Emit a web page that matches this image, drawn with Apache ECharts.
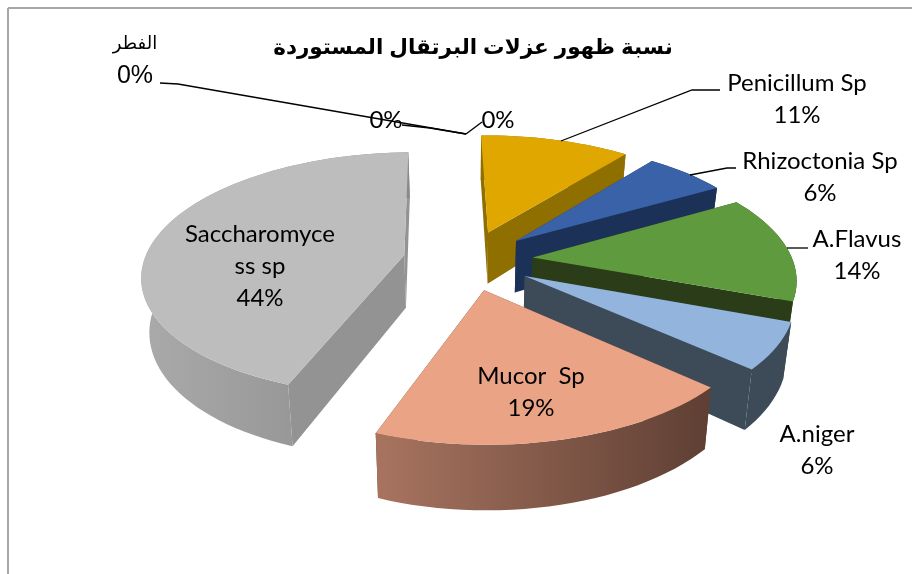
<!DOCTYPE html>
<html>
<head>
<meta charset="utf-8">
<style>
  html, body { margin: 0; padding: 0; background: #fff; }
  #chart { width: 912px; height: 574px; }
</style>
</head>
<body>
<div id="chart"></div>
<script src="https://cdn.jsdelivr.net/npm/echarts@6/dist/echarts.min.js"></script>
<script>
// values in chart order, clockwise from 12 o'clock
const categories = ['الفطر', '', '', 'Penicillum Sp', 'Rhizoctonia Sp', 'A.Flavus', 'A.niger', 'Mucor  Sp', 'Saccharomyce\nss sp']
const values = [0, 0, 0, 11, 6, 14, 6, 19, 44]
const titleText = 'نسبة ظهور عزلات البرتقال المستوردة'

// slice styles, same order as values
const topColors = ['#999', '#999', '#999', '#dfa700', '#3a62a8', '#5f9a3e', '#93b5dd', '#eaa385', '#bdbdbd']
const wallColors = ['#666', '#666', '#666', '#8f6f00', '#1c3157', '#2a3d18', '#3d4a58', '#5e3f33', '#939393']
const rimColors = [null, null, null, null, null, null, null, ['#a87460', '#5e3f33'], ['#aaaaaa', '#8a8a8a']]

// label anchor and leader line for each slice, in page pixels
const labelLayout = [
  { x: 135, y: 44, leader: [[160, 83], [178, 84], [466, 134]] },
  { x: 386, y: 120, leader: [[402, 125], [430, 128], [466, 134]] },
  { x: 498, y: 120, leader: [[482, 122], [466, 134]] },
  { x: 797, y: 83, leader: [[561, 141], [692, 90], [720, 90]] },
  { x: 820, y: 161, leader: [[690, 175], [727, 168], [736, 168]] },
  { x: 857, y: 239, leader: [[787, 248], [808, 248]] },
  { x: 817, y: 434, leader: [] },
  { x: 531, y: 376, leader: [] },
  { x: 260, y: 234, leader: [] }
]

// fake 3d pie: disc plane with perspective, then drop for the wall
const pie3d = { cx: 468, cy: 260, rx: 260, ry: 120, persp: 0.155, explode: 0.25, depth: 53, shrink: 0.975, rotate: -0.02 }
const total = values.reduce((a, b) => a + b, 0)

function project (X, Y, low) {
  const s = 1 / (1 + pie3d.persp * Y)
  let x = pie3d.cx + pie3d.rx * X * s
  let y = pie3d.cy - pie3d.ry * Y * s
  if (low) {
    x = pie3d.cx + (x - pie3d.cx) * pie3d.shrink
    y += pie3d.depth * s
  }
  return [x, y]
}

function poly (points, fill) {
  return { type: 'polygon', shape: { points: points }, style: { fill: fill } }
}

function renderSlice (params, api) {
  const i = params.dataIndex
  const before = values.slice(0, i).reduce((a, b) => a + b, 0)
  const a0 = before / total * Math.PI * 2 + pie3d.rotate
  const a1 = (before + api.value(0)) / total * Math.PI * 2 + pie3d.rotate
  const mid = (a0 + a1) / 2
  const ox = pie3d.explode * Math.sin(mid)
  const oy = pie3d.explode * Math.cos(mid)
  const children = []

  if (a1 > a0) {
    const n = Math.max(2, Math.ceil((a1 - a0) / 0.04))
    const arcTop = []
    const arcLow = []
    for (let k = 0; k <= n; k++) {
      const a = a0 + (a1 - a0) * k / n
      arcTop.push(project(ox + Math.sin(a), oy + Math.cos(a), false))
      arcLow.push(project(ox + Math.sin(a), oy + Math.cos(a), true))
    }
    const tipTop = project(ox, oy, false)
    const tipLow = project(ox, oy, true)
    let rimFill = wallColors[i]
    if (rimColors[i]) {
      // arc runs right to left on mucor, gradient is set in page direction
      rimFill = new echarts.graphic.LinearGradient(0, 0, 1, 0, [
        { offset: 0, color: rimColors[i][0] },
        { offset: 1, color: rimColors[i][1] }
      ])
    }
    children.push(poly([tipTop, arcTop[0], arcLow[0], tipLow], wallColors[i]))
    children.push(poly([tipTop, arcTop[n], arcLow[n], tipLow], wallColors[i]))
    children.push(poly(arcTop.concat(arcLow.slice().reverse()), rimFill))
    children.push(poly([tipTop].concat(arcTop), topColors[i]))
  }

  // labels on top of every slice
  const lay = labelLayout[i]
  if (lay.leader.length) {
    children.push({
      type: 'polyline',
      z2: 50,
      shape: { points: lay.leader },
      style: { stroke: '#000', lineWidth: 1.3, fill: null }
    })
  }
  const pct = Math.round(api.value(0) / total * 100) + '%'
  const isFungus = i === 0
  let lines = []
  if (categories[i]) lines = categories[i].split('\n')
  lines.push(pct)
  lines.forEach((line, k) => {
    const arabic = isFungus && k === 0
    children.push({
      type: 'text',
      z2: 100,
      style: {
        x: lay.x,
        y: isFungus ? (arabic ? lay.y : lay.y + 32) : lay.y + k * 32,
        text: line,
        align: 'center',
        verticalAlign: 'middle',
        fill: '#000',
        font: arabic ? '18px "Liberation Sans", "DejaVu Sans", sans-serif'
          : isFungus ? '25px "Liberation Sans", sans-serif'
            : '24px Lato, "Open Sans", sans-serif'
      }
    })
  })
  return { type: 'group', children: children }
}

const myChart = echarts.init(document.getElementById('chart'), null, { renderer: 'canvas' })
myChart.setOption({
  animation: false,
  backgroundColor: '#fff',
  title: {
    text: titleText,
    left: 468,
    top: 32,
    textAlign: 'center',
    textStyle: {
      color: '#000',
      fontSize: 21.5,
      fontWeight: 'bold',
      fontFamily: '"Liberation Sans", "DejaVu Sans", sans-serif'
    }
  },
  graphic: [
    { type: 'line', shape: { x1: 8, y1: 8, x2: 912, y2: 8 }, style: { stroke: '#a6a6a6', lineWidth: 2 } },
    { type: 'line', shape: { x1: 8, y1: 8, x2: 8, y2: 574 }, style: { stroke: '#a6a6a6', lineWidth: 2 } }
  ],
  series: [{
    type: 'custom',
    coordinateSystem: 'none',
    silent: true,
    clip: false,
    data: values.map((v) => [v]),
    renderItem: renderSlice
  }]
})
</script>
</body>
</html>
